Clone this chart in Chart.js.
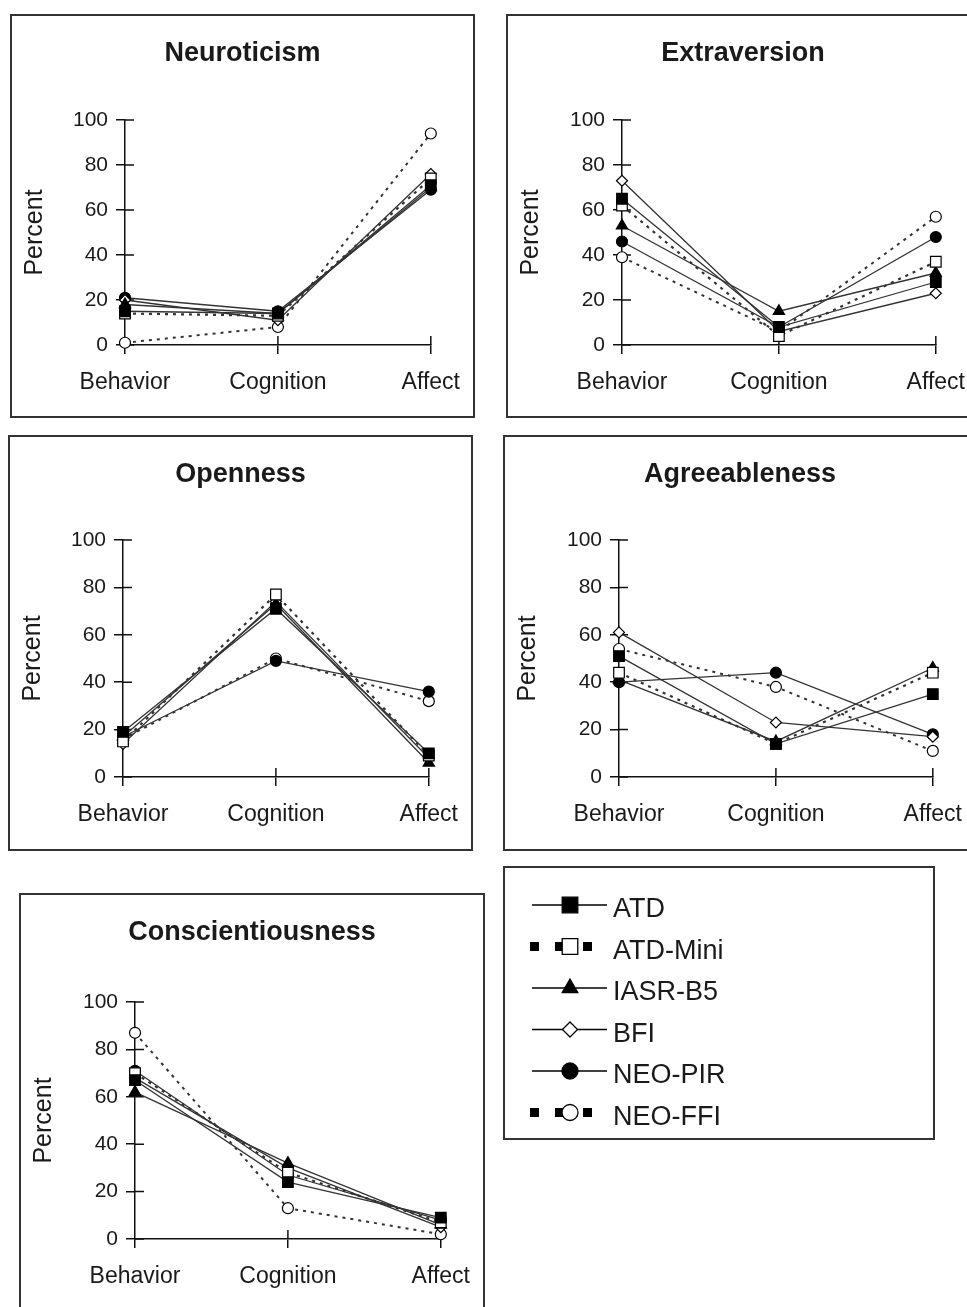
<!DOCTYPE html>
<html>
<head>
<meta charset="utf-8">
<script src="https://cdn.jsdelivr.net/npm/chart.js@4.4.1/dist/chart.umd.min.js"></script>
<style>
  body { margin: 0; background: #fff; width: 967px; height: 1307px; overflow: hidden; position: relative; }
  canvas { position: absolute; }
</style>
</head>
<body>
<canvas id="neuroticism"></canvas>
<canvas id="extraversion"></canvas>
<canvas id="openness"></canvas>
<canvas id="agreeableness"></canvas>
<canvas id="conscientiousness"></canvas>
<canvas id="legend"></canvas>
<script>
// ---- data ----
const categories = ['Behavior', 'Cognition', 'Affect'];
const seriesNames = ['ATD', 'ATD-Mini', 'IASR-B5', 'BFI', 'NEO-PIR', 'NEO-FFI'];
const yTicks = [0, 20, 40, 60, 80, 100];

// one row per series (same order as seriesNames), one column per category
const neuroticism       = [[15, 14, 71], [14, 13, 74], [18, 14, 70], [20, 11, 76], [21, 15, 69], [1, 8, 94]];
const extraversion      = [[65, 8, 28], [62, 4, 37], [53, 15, 32], [73, 6, 23], [46, 8, 48], [39, 6, 57]];
const openness          = [[19, 71, 10], [15, 77, 9], [17, 73, 6], [14, 74, 8], [17, 49, 36], [16, 50, 32]];
const agreeableness     = [[51, 14, 35], [44, 14, 44], [41, 15, 46], [61, 23, 17], [40, 44, 18], [54, 38, 11]];
const conscientiousness = [[67, 24, 9], [70, 28, 7], [62, 32, 6], [68, 30, 5], [71, 27, 8], [87, 13, 2]];

// ---- look ----
const FONT = '"Liberation Sans", Arial, Helvetica, sans-serif';
const INK = '#1a1a1a';

// radius = marker size on the plots, legendRadius = size in the legend box
const seriesStyle = [
    { dash: [], width: 1.3, point: 'rect', fill: '#000', radius: 7.5, legendRadius: 11 },
    { dash: [3, 5], width: 2.2, point: 'rect', fill: '#fff', radius: 7.5, legendRadius: 11 },
    { dash: [], width: 1.3, point: 'triangle', fill: '#000', radius: 6.5, legendRadius: 9 },
    { dash: [], width: 1.3, point: 'rectRot', fill: '#fff', radius: 5.5, legendRadius: 7.5 },
    { dash: [], width: 1.3, point: 'circle', fill: '#000', radius: 5.5, legendRadius: 8 },
    { dash: [3, 5], width: 2, point: 'circle', fill: '#fff', radius: 5.5, legendRadius: 8 }
];

// box = [left, top, width, height] of the framed panel, area = plot rectangle in page pixels
const panels = [
    { id: 'neuroticism', title: 'Neuroticism', rows: neuroticism, box: [10, 14, 465, 404], area: { left: 125, top: 120, right: 425, bottom: 345 }, titleY: 54 },
    { id: 'extraversion', title: 'Extraversion', rows: extraversion, box: [506, 14, 474, 404], area: { left: 622, top: 120, right: 928, bottom: 345 }, titleY: 54 },
    { id: 'openness', title: 'Openness', rows: openness, box: [8, 435, 465, 416], area: { left: 123, top: 540, right: 417, bottom: 777 }, titleY: 475 },
    { id: 'agreeableness', title: 'Agreeableness', rows: agreeableness, box: [503, 435, 474, 416], area: { left: 619, top: 540, right: 924, bottom: 777 }, titleY: 475 },
    { id: 'conscientiousness', title: 'Conscientiousness', rows: conscientiousness, box: [19, 893, 466, 430], area: { left: 135, top: 1002, right: 430, bottom: 1239 }, titleY: 933 }
];

// title + frame
const panelFrame = {
    id: 'panelFrame',
    afterDraw(chart, args, opts) {
        const ctx = chart.ctx;
        ctx.save();
        ctx.font = 'bold 27px ' + FONT;
        ctx.fillStyle = INK;
        ctx.textAlign = 'center';
        ctx.textBaseline = 'middle';
        ctx.fillText(opts.text, chart.width / 2, opts.y);
        ctx.strokeStyle = '#333';
        ctx.lineWidth = 2;
        ctx.strokeRect(1, 1, chart.width - 2, chart.height - 2);
        ctx.restore();
    }
};

// tick marks crossing to the inside of both axes
const crossTicks = {
    id: 'crossTicks',
    beforeDatasetsDraw(chart) {
        const { ctx, chartArea, scales } = chart;
        ctx.save();
        ctx.strokeStyle = '#111';
        ctx.lineWidth = 1.5;
        ctx.beginPath();
        scales.y.ticks.forEach((t, i) => {
            const py = scales.y.getPixelForTick(i);
            ctx.moveTo(chartArea.left, py);
            ctx.lineTo(chartArea.left + 9, py);
        });
        scales.x.ticks.forEach((t, i) => {
            if (i === 0) return;
            const px = scales.x.getPixelForTick(i);
            ctx.moveTo(px, chartArea.bottom);
            ctx.lineTo(px, chartArea.bottom - 9);
        });
        ctx.stroke();
        ctx.restore();
    }
};

function makePanel(p) {
    const [bx, by, bw, bh] = p.box;
    const el = document.getElementById(p.id);
    el.width = bw; el.height = bh;
    el.style.left = bx + 'px'; el.style.top = by + 'px';
    el.style.width = bw + 'px'; el.style.height = bh + 'px';

    const target = {
        left: p.area.left - bx, top: p.area.top - by,
        right: p.area.right - bx, bottom: p.area.bottom - by
    };

    const datasets = seriesNames.map((name, i) => {
        const s = seriesStyle[i];
        return {
            label: name,
            data: p.rows[i],
            borderColor: '#333',
            borderWidth: s.width,
            borderDash: s.dash,
            pointStyle: s.point,
            pointRadius: s.radius,
            pointBackgroundColor: s.fill,
            pointBorderColor: '#000',
            pointBorderWidth: 1.2,
            tension: 0,
            clip: false
        };
    });

    const chart = new Chart(el, {
        type: 'line',
        data: { labels: categories, datasets: datasets },
        options: {
            responsive: false,
            animation: false,
            layout: { padding: { left: 0, top: 0, right: 0, bottom: 0 } },
            plugins: {
                legend: { display: false },
                tooltip: { enabled: false },
                panelFrame: { text: p.title, y: p.titleY - by }
            },
            scales: {
                x: {
                    type: 'category',
                    offset: false,
                    grid: { drawOnChartArea: false, tickLength: 9, color: '#111', lineWidth: 1.5 },
                    border: { color: '#111', width: 1.5 },
                    ticks: { color: INK, font: { family: FONT, size: 23 }, padding: 15, maxRotation: 0, autoSkip: false },
                    afterFit(scale) { scale.height = bh - target.bottom; }
                },
                y: {
                    min: 0,
                    max: 100,
                    afterBuildTicks(scale) { scale.ticks = yTicks.map(v => ({ value: v })); },
                    grid: { drawOnChartArea: false, tickLength: 9, color: '#111', lineWidth: 1.5 },
                    border: { color: '#111', width: 1.5 },
                    ticks: { color: INK, font: { family: FONT, size: 21 }, padding: 8 },
                    title: { display: true, text: 'Percent', color: INK, font: { family: FONT, size: 25 }, padding: { top: 10, bottom: 0 } },
                    afterFit(scale) { scale.width = target.left; }
                }
            }
        },
        plugins: [panelFrame, crossTicks]
    });

    // nudge layout padding until the plot area sits where the original has it
    for (let k = 0; k < 3; k++) {
        const a = chart.chartArea;
        const pad = chart.config.options.layout.padding;
        chart.config.options.layout.padding = {
            left: pad.left + (target.left - a.left),
            top: pad.top + (target.top - a.top),
            right: pad.right + (a.right - target.right),
            bottom: pad.bottom + (a.bottom - target.bottom)
        };
        chart.update('none');
    }
    return chart;
}

panels.forEach(makePanel);

// ---- legend box ----
(function drawLegend() {
    const el = document.getElementById('legend');
    const lx = 503, ly = 866, lw = 432, lh = 274;
    el.width = lw; el.height = lh;
    el.style.left = lx + 'px'; el.style.top = ly + 'px';
    el.style.width = lw + 'px'; el.style.height = lh + 'px';
    const ctx = el.getContext('2d');
    ctx.fillStyle = '#fff';
    ctx.fillRect(0, 0, lw, lh);
    ctx.strokeStyle = '#333';
    ctx.lineWidth = 2;
    ctx.strokeRect(1, 1, lw - 2, lh - 2);

    seriesNames.forEach((name, i) => {
        const s = seriesStyle[i];
        const rowY = 42 + i * 41.5;
        const my = rowY - 3;
        ctx.save();
        if (s.dash.length) {
            ctx.fillStyle = '#000';
            ctx.fillRect(27, my - 4.5, 9, 9);
            ctx.fillRect(52, my - 4.5, 9, 9);
            ctx.fillRect(80, my - 4.5, 9, 9);
        } else {
            ctx.strokeStyle = '#000';
            ctx.lineWidth = 1.5;
            ctx.beginPath();
            ctx.moveTo(29, my);
            ctx.lineTo(104, my);
            ctx.stroke();
        }
        ctx.fillStyle = s.fill;
        ctx.strokeStyle = '#000';
        ctx.lineWidth = 1.3;
        Chart.helpers.drawPoint(ctx, { pointStyle: s.point, radius: s.legendRadius, rotation: 0, borderWidth: 1.3 }, 67, my);
        ctx.restore();

        ctx.fillStyle = INK;
        ctx.font = '27px ' + FONT;
        ctx.textBaseline = 'middle';
        ctx.fillText(name, 110, rowY + 2);
    });
})();
</script>
</body>
</html>
